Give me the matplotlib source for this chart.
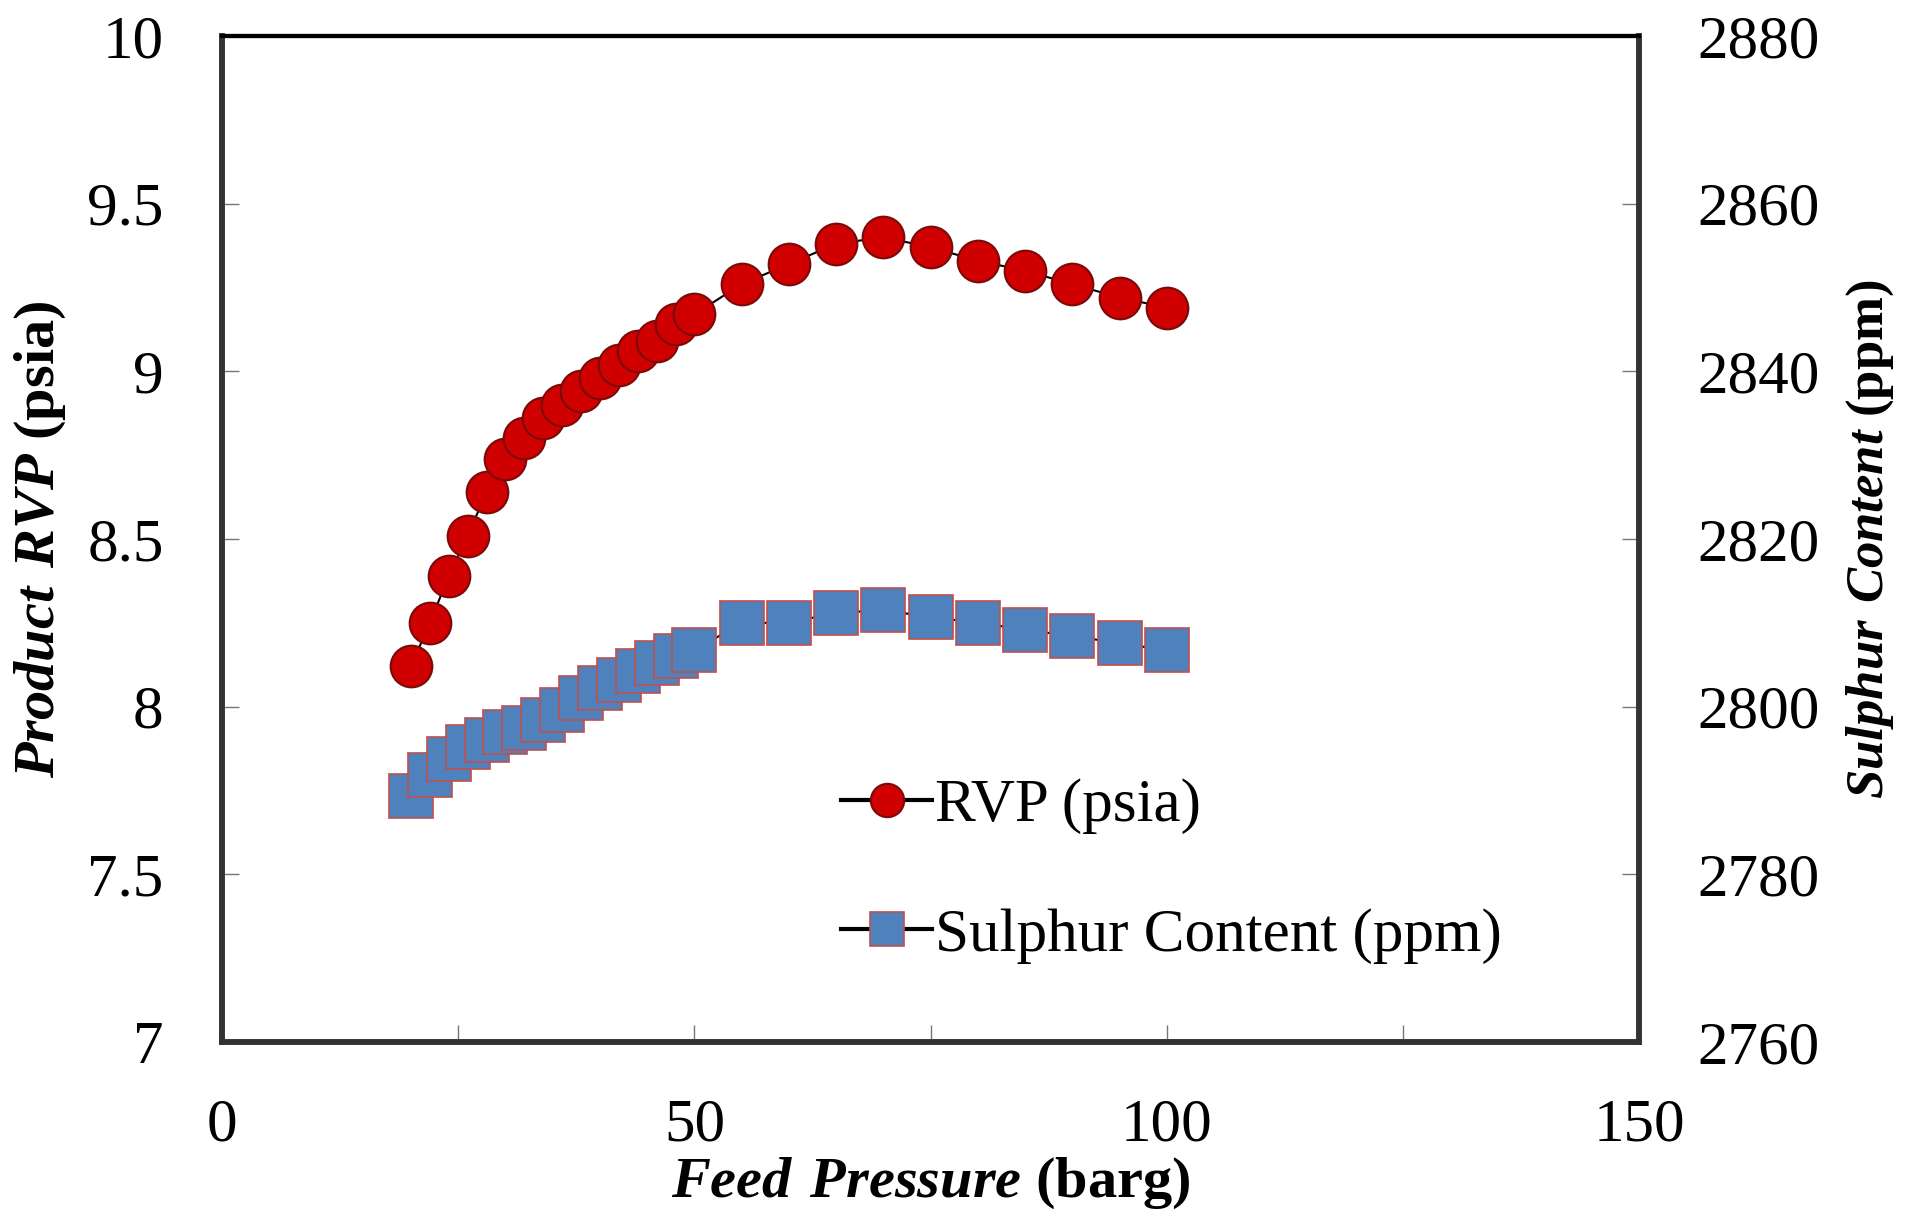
import numpy as np
import matplotlib
matplotlib.use("Agg")
import matplotlib.pyplot as plt
from matplotlib.ticker import MultipleLocator, FormatStrFormatter

plt.rcParams['font.family'] = ['Liberation Serif', 'DejaVu Serif']
plt.rcParams['mathtext.fontset'] = 'custom'
plt.rcParams['mathtext.rm'] = 'Liberation Serif'
plt.rcParams['mathtext.bfit'] = 'Liberation Serif:bold:italic'

# --- data ---
pressure = [20, 22, 24, 26, 28, 30, 32, 34, 36, 38, 40, 42, 44, 46, 48, 50,
            55, 60, 65, 70, 75, 80, 85, 90, 95, 100]
rvp = [8.12, 8.25, 8.39, 8.51, 8.64, 8.74, 8.80, 8.86, 8.90, 8.94, 8.98, 9.02, 9.06,
       9.09, 9.14, 9.17, 9.26, 9.32, 9.38, 9.40, 9.37, 9.33, 9.30, 9.26, 9.22, 9.19]
sulphur = [2789.4, 2791.8, 2793.8, 2795.2, 2796.0, 2797.0, 2797.4, 2798.4, 2799.6,
           2801.0, 2802.2, 2803.2, 2804.2, 2805.2, 2806.0, 2806.7,
           2810.0, 2810.0, 2811.2, 2811.5, 2810.7, 2810.0, 2809.2, 2808.4, 2807.6, 2806.7]

x_ticks = [0, 50, 100, 150]
rvp_ticks = [7, 7.5, 8, 8.5, 9, 9.5, 10]
sulphur_ticks = [2760, 2780, 2800, 2820, 2840, 2860, 2880]

FS = 44

fig = plt.figure(figsize=(19.06, 12.25), dpi=100)
ax = fig.add_axes([0.1165, 0.1494, 0.7435, 0.8212])
ax2 = ax.twinx()

# sulphur drawn first (behind), rvp on top
l2, = ax2.plot(pressure, sulphur, color='black', lw=1.5, marker='s', ms=31,
               mfc='#4F81BD', mec='#C0504D', mew=1.2, label='Sulphur Content (ppm)')
l1, = ax.plot(pressure, rvp, color='black', lw=1.5, marker='o', ms=30,
              mfc='#D00000', mec='#7A0A0A', mew=1.5, label='RVP (psia)')
ax.set_zorder(ax2.get_zorder() + 1)
ax.patch.set_visible(False)

ax.set_xlim(0, 150)
ax.set_ylim(7, 10)
ax2.set_ylim(2760, 2880)
ax.set_xticks(x_ticks)
ax.xaxis.set_minor_locator(MultipleLocator(25))
ax.set_yticks(rvp_ticks)
ax.yaxis.set_major_formatter(FormatStrFormatter('%g'))
ax2.set_yticks(sulphur_ticks)

ax.tick_params(axis='both', which='both', direction='in', length=12, width=1,
               color='#777777', labelsize=FS, pad=40)
ax.tick_params(axis='y', pad=42)
ax2.tick_params(axis='y', direction='in', length=12, width=1, color='#777777',
                labelsize=FS, pad=42)

for a in (ax, ax2):
    for side in ('left', 'bottom', 'right'):
        a.spines[side].set_linewidth(4)
        a.spines[side].set_color('#333333')
    a.spines['top'].set_linewidth(3)
    a.spines['top'].set_color('black')

ax.set_xlabel(r'$\mathbfit{Feed\ Pressure}$ (barg)', fontsize=42, fontweight='bold',
              labelpad=2)
ax.set_ylabel(r'$\mathbfit{Product\ RVP}$ (psia)', fontsize=42, fontweight='bold',
              labelpad=14)
ax2.set_ylabel(r'$\mathbfit{Sulphur\ Content}$ (ppm)', fontsize=38, fontweight='bold',
               labelpad=18)

leg = ax.legend(handles=[l1, l2], loc='center left', bbox_to_anchor=(0.415, 0.17),
                frameon=False, fontsize=FS, markerscale=0.8, handlelength=1.5,
                handletextpad=0.05, labelspacing=1.2, borderpad=0)
for h in leg.get_lines():
    h.set_linewidth(3)

fig.savefig('out.png', dpi=100, facecolor='white')
